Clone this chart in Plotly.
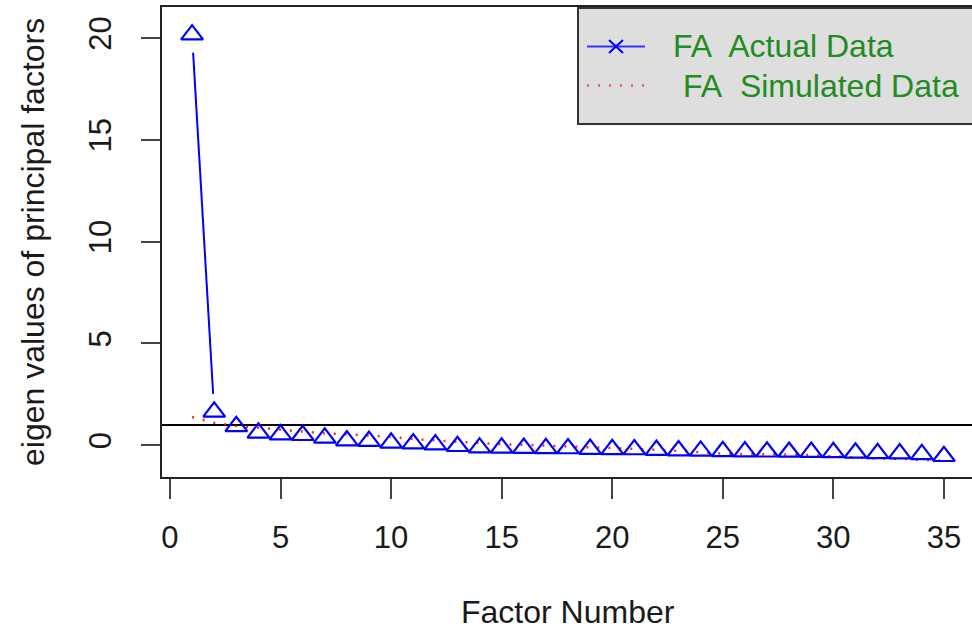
import plotly.graph_objects as go

# ---- data ----
factor_number = list(range(1, 36))
fa_actual = [20.17, 1.64, 0.93, 0.61, 0.52, 0.49, 0.36, 0.23, 0.20, 0.12,
             0.08, 0.03, -0.05, -0.12, -0.13, -0.14, -0.15, -0.16, -0.19, -0.20,
             -0.21, -0.24, -0.26, -0.28, -0.30, -0.31, -0.32, -0.33, -0.34, -0.35,
             -0.37, -0.40, -0.41, -0.45, -0.54]
fa_simulated = [1.39, 1.10, 0.95, 0.86, 0.77, 0.66, 0.58, 0.54, 0.49, 0.41,
                0.30, 0.23, 0.17, 0.10, 0.05, 0.02, -0.02, -0.05, -0.07, -0.11,
                -0.18, -0.22, -0.28, -0.36, -0.41, -0.44, -0.44, -0.45, -0.49, -0.54,
                -0.60, -0.65, -0.66, -0.70, -0.77]
x_ticks = [0, 5, 10, 15, 20, 25, 30, 35]
y_ticks = [0, 5, 10, 15, 20]
reference_line = 1
legend_labels = ["FA\u00a0 Actual Data", "FA\u00a0 Simulated Data"]

# ---- layout constants ----
W, H = 972, 636
ML, MR, MT, MB = 162, 0, 7, 159
XR = [-0.36, 36.27]
YR = [-1.56, 21.53]
FONT = "Liberation Sans, Arial, sans-serif"
FS = 32
pw, ph = W - ML - MR, H - MT - MB
sx = pw / (XR[1] - XR[0])
sy = ph / (YR[1] - YR[0])

# R type="b": line segments with gaps around the points
GAP = 18.0
seg_x, seg_y = [], []
for i in range(len(factor_number) - 1):
    x0, y0 = factor_number[i], fa_actual[i]
    x1, y1 = factor_number[i + 1], fa_actual[i + 1]
    dxp, dyp = (x1 - x0) * sx, (y1 - y0) * sy
    d = (dxp ** 2 + dyp ** 2) ** 0.5
    if d <= 2 * GAP:
        continue
    f = GAP / d
    seg_x += [x0 + (x1 - x0) * f, x1 - (x1 - x0) * f, None]
    seg_y += [y0 + (y1 - y0) * f, y1 - (y1 - y0) * f, None]

fig = go.Figure()
fig.add_trace(go.Scatter(x=seg_x, y=seg_y, mode="lines",
                         line=dict(color="#0000FF", width=2), showlegend=False, hoverinfo="skip"))
fig.add_trace(go.Scatter(x=factor_number, y=fa_simulated, mode="lines",
                         line=dict(color="rgba(255,0,0,0.85)", width=2.5, dash="2px,9px"),
                         showlegend=False))
fig.add_trace(go.Scatter(x=factor_number, y=fa_actual, mode="markers",
                         marker=dict(symbol="triangle-up-open", size=19, color="#0000FF",
                                     line=dict(color="#0000FF", width=2.2)),
                         showlegend=False))

def px_to_paper_x(px):
    return (px - ML) / pw

def py_to_paper_y(py):
    return (H - MB - py) / ph

shapes = [
    dict(type="line", xref="paper", yref="y", x0=0, x1=1, y0=reference_line, y1=reference_line,
         line=dict(color="black", width=2), layer="below"),
    # legend box
    dict(type="rect", xref="paper", yref="paper",
         x0=px_to_paper_x(578), x1=px_to_paper_x(990),
         y0=py_to_paper_y(124), y1=py_to_paper_y(8),
         fillcolor="#DEDEDE", line=dict(color="#333333", width=2), layer="above"),
    # legend sample: actual line
    dict(type="line", xref="paper", yref="paper",
         x0=px_to_paper_x(587), x1=px_to_paper_x(645),
         y0=py_to_paper_y(46.5), y1=py_to_paper_y(46.5),
         line=dict(color="#3333FF", width=2)),
    # legend sample: x marker
    dict(type="line", xref="paper", yref="paper",
         x0=px_to_paper_x(609), x1=px_to_paper_x(623),
         y0=py_to_paper_y(40), y1=py_to_paper_y(53),
         line=dict(color="#0000FF", width=2)),
    dict(type="line", xref="paper", yref="paper",
         x0=px_to_paper_x(609), x1=px_to_paper_x(623),
         y0=py_to_paper_y(53), y1=py_to_paper_y(40),
         line=dict(color="#0000FF", width=2)),
    # legend sample: simulated dotted line
    dict(type="line", xref="paper", yref="paper",
         x0=px_to_paper_x(587), x1=px_to_paper_x(645),
         y0=py_to_paper_y(85.5), y1=py_to_paper_y(85.5),
         line=dict(color="rgba(255,0,0,0.6)", width=2.5, dash="2px,9px")),
]

annotations = [
    dict(text=legend_labels[0], xref="paper", yref="paper",
         x=px_to_paper_x(671), y=py_to_paper_y(46.5), xanchor="left", yanchor="middle",
         showarrow=False, font=dict(family=FONT, size=FS, color="#228B22")),
    dict(text=legend_labels[1], xref="paper", yref="paper",
         x=px_to_paper_x(681), y=py_to_paper_y(85.5), xanchor="left", yanchor="middle",
         showarrow=False, font=dict(family=FONT, size=FS, color="#228B22")),
    dict(text="Factor Number", xref="paper", yref="paper",
         x=px_to_paper_x(568), y=py_to_paper_y(612), xanchor="center", yanchor="middle",
         showarrow=False, font=dict(family=FONT, size=FS, color="#1a1a1a")),
    dict(text="eigen values of principal factors", xref="paper", yref="paper",
         x=px_to_paper_x(33), y=py_to_paper_y(242), xanchor="center", yanchor="middle",
         textangle=-90, showarrow=False, font=dict(family=FONT, size=FS, color="#1a1a1a")),
]

fig.update_layout(
    width=W, height=H,
    margin=dict(l=ML, r=MR, t=MT, b=MB, pad=0),
    paper_bgcolor="white", plot_bgcolor="white",
    font=dict(family=FONT, size=FS, color="#1a1a1a"),
    showlegend=False,
    shapes=shapes, annotations=annotations,
    xaxis=dict(range=XR, tickvals=x_ticks, ticktext=[str(v) for v in x_ticks],
               showgrid=False, zeroline=False, showline=True, mirror=True,
               linecolor="#222222", linewidth=2, ticks="outside", ticklen=20,
               tickwidth=2, tickcolor="#444444", ticklabelstandoff=12,
               tickfont=dict(family=FONT, size=31, color="#1a1a1a")),
    yaxis=dict(range=YR, tickvals=y_ticks, ticktext=[str(v) for v in y_ticks],
               showgrid=False, zeroline=False, showline=True, mirror=False,
               linecolor="#222222", linewidth=2, ticks="outside", ticklen=19,
               tickwidth=2, tickcolor="#444444", tickangle=-90, ticklabelstandoff=18,
               tickfont=dict(family=FONT, size=31, color="#1a1a1a")),
)

fig.write_html("out.html")
